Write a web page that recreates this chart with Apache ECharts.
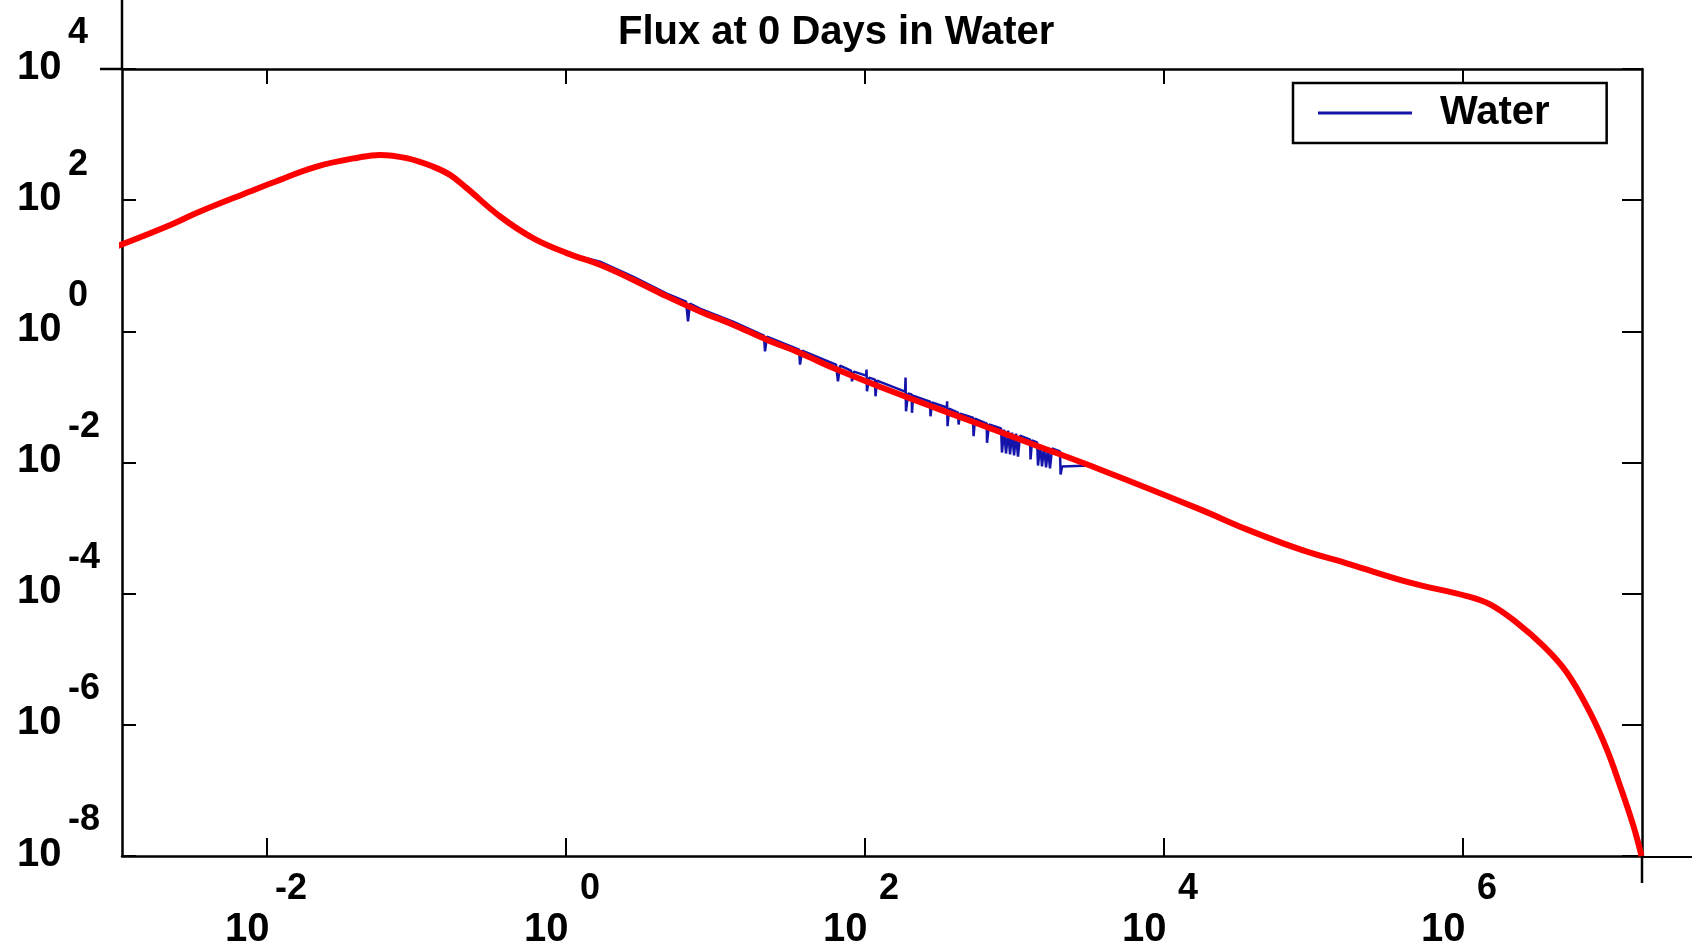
<!DOCTYPE html>
<html><head><meta charset="utf-8">
<script src="https://cdn.jsdelivr.net/npm/echarts@6/dist/echarts.min.js"></script>
<style>html,body{margin:0;padding:0;background:#fff}#c{width:1692px;height:950px}</style>
</head><body><div id="c"></div>
<script>
const titleText = 'Flux at 0 Days in Water';
const seriesName = 'Water';
const xTickExps = [-2, 0, 2, 4, 6];
const yTickExps = [-8, -6, -4, -2, 0, 2, 4];
const xRangeExp = [-2.970, 7.197];
const yRangeExp = [-8, 4];

// smooth fitted curve (red), log10 of energy and flux
const fitEnergyExp = [-3.017,-2.671,-2.448,-2.114,-1.960,-1.668,-1.378,-1.244,-1.066,-0.890,-0.776,-0.664,-0.441,-0.221,0.005,0.227,0.448,0.674,0.896,1.117,1.342,1.565,1.788,2.234,2.680,3.126,3.572,4.241,4.553,4.910,5.244,5.645,6.025,6.181,6.359,6.537,6.694,6.849,6.961,7.050,7.139,7.194];
const fitFluxExp = [1.285,1.599,1.827,2.132,2.27,2.512,2.655,2.690,2.640,2.512,2.386,2.183,1.751,1.422,1.193,1.015,0.787,0.533,0.304,0.102,-0.127,-0.329,-0.558,-0.964,-1.345,-1.726,-2.106,-2.715,-3.020,-3.325,-3.553,-3.832,-4.036,-4.162,-4.441,-4.797,-5.202,-5.811,-6.370,-6.929,-7.538,-8.000];

// noisy "Water" spectrum (blue), log10 of energy and flux
const waterEnergyExp = [-3.017,-2.671,-2.448,-2.114,-1.960,-1.668,-1.378,-1.244,-1.066,-0.890,-0.776,-0.664,-0.441,-0.221,0.005,
0.227,0.448,0.674,0.803,0.816,0.829,0.896,1.117,1.324,1.331,1.344,1.559,1.565,1.579,1.806,1.819,1.833,1.906,1.913,1.926,2.007,2.010,2.013,2.027,2.067,2.070,2.080,2.234,2.268,2.271,2.274,2.288,2.312,2.314,2.321,2.435,2.438,2.448,2.547,2.549,2.552,2.562,2.622,2.626,2.636,2.722,2.726,2.736,2.814,2.816,2.829,2.910,2.916,2.930,2.943,2.957,2.970,2.983,2.997,3.010,3.023,3.037,3.104,3.107,3.117,3.151,3.157,3.171,3.184,3.197,3.211,3.224,3.237,3.251,3.304,3.308,3.318,3.505,
3.572,4.241,4.553,4.910,5.244,5.645,6.025,6.181,6.359,6.537,6.694,6.849,6.961,7.050,7.139,7.194];
const waterFluxExp = [1.285,1.599,1.827,2.132,2.27,2.512,2.655,2.690,2.640,2.512,2.386,2.183,1.751,1.422,1.193,
1.061,0.833,0.574,0.452,0.152,0.421,0.345,0.147,-0.066,-0.305,-0.081,-0.279,-0.507,-0.294,-0.507,-0.762,-0.523,-0.599,-0.762,-0.614,-0.675,-0.584,-0.914,-0.705,-0.736,-0.990,-0.751,-0.888,-0.919,-0.705,-1.219,-0.949,-0.964,-1.243,-0.980,-1.071,-1.295,-1.086,-1.162,-1.066,-1.447,-1.177,-1.238,-1.421,-1.254,-1.315,-1.599,-1.330,-1.406,-1.700,-1.421,-1.482,-1.848,-1.497,-1.863,-1.513,-1.878,-1.543,-1.893,-1.558,-1.909,-1.589,-1.650,-1.954,-1.665,-1.695,-2.046,-1.726,-2.061,-1.756,-2.076,-1.772,-2.091,-1.787,-1.832,-2.183,-2.061,-2.046,
-2.106,-2.715,-3.020,-3.325,-3.553,-3.832,-4.036,-4.162,-4.441,-4.797,-5.202,-5.811,-6.370,-6.929,-7.538,-8.000];

const p10 = v => Math.pow(10, v);
const pairs = (xs, ys) => xs.map((x, i) => [p10(x), p10(ys[i])]);
const expOf = v => Math.round(Math.log10(v));
const FONT = '"Liberation Sans", Arial, sans-serif';
const BLACK = '#000';
const BLUE = '#1414aa';

const xTicks = xTickExps.map(p10);
const yTicks = yTickExps.map(p10);

const chart = echarts.init(document.getElementById('c'), null, {renderer: 'canvas'});
const baseX = {
  type: 'log', logBase: 10, min: p10(xRangeExp[0]), max: p10(xRangeExp[1]),
  axisLine: {show: true, onZero: false, lineStyle: {color: BLACK, width: 2.5}},
  splitLine: {show: false}, minorTick: {show: false}
};
const baseY = {
  type: 'log', logBase: 10, min: p10(yRangeExp[0]), max: p10(yRangeExp[1]),
  axisLine: {show: true, onZero: false, lineStyle: {color: BLACK, width: 2.5}},
  splitLine: {show: false}, minorTick: {show: false}
};
const labelRich = {
  e: {fontSize: 36, fontWeight: 'bold', fontFamily: FONT, color: BLACK, lineHeight: 30},
  b: {fontSize: 40, fontWeight: 'bold', fontFamily: FONT, color: BLACK, lineHeight: 38}
};

chart.setOption({
  animation: false,
  backgroundColor: '#fff',
  title: {
    text: titleText, left: 613, top: 8,
    textStyle: {fontSize: 40, fontWeight: 'bold', fontFamily: FONT, color: BLACK}
  },
  legend: {
    data: [seriesName], left: 1293, top: 83,
    padding: [10, 57, 10, 25], borderColor: BLACK, borderWidth: 2.5,
    icon: 'rect', itemWidth: 94, itemHeight: 3,
    textStyle: {fontSize: 40, fontWeight: 'bold', fontFamily: FONT, color: BLACK, padding: [0, 0, 0, 23]}
  },
  grid: {left: 122, right: 50, top: 69, bottom: 93, containLabel: false},
  xAxis: [
    Object.assign({}, baseX, {
      position: 'bottom',
      axisTick: {show: true, inside: true, length: 18, lineStyle: {color: BLACK, width: 2}, customValues: xTicks},
      axisLabel: {
        show: true, customValues: xTicks, margin: 18, align: 'center', verticalAlign: 'top',
        formatter: v => '{p|}{e|' + expOf(v) + '}\n{b|10}{q|}',
        rich: {
          p: {width: 48, lineHeight: 30},
          e: Object.assign({}, labelRich.e, {width: 36, align: 'left'}),
          b: Object.assign({}, labelRich.b, {width: 48, align: 'left', lineHeight: 52}),
          q: {width: 36, lineHeight: 52}
        }
      }
    }),
    Object.assign({}, baseX, {
      position: 'top',
      axisTick: {show: true, inside: true, length: 15, lineStyle: {color: BLACK, width: 2}, customValues: xTicks},
      axisLabel: {show: false}
    })
  ],
  yAxis: [
    Object.assign({}, baseY, {
      position: 'left',
      axisTick: {show: true, inside: true, length: 14, lineStyle: {color: BLACK, width: 2}, customValues: yTicks},
      axisLabel: {
        show: true, customValues: yTicks, margin: 105, align: 'left', verticalAlign: 'middle',
        padding: [0, 0, 33, 0],
        formatter: v => '{p|}{e|' + expOf(v) + '}\n{b|10}',
        rich: {
          p: {width: 51, lineHeight: 30},
          e: Object.assign({}, labelRich.e, {align: 'left'}),
          b: Object.assign({}, labelRich.b, {align: 'left'})
        }
      }
    }),
    Object.assign({}, baseY, {
      position: 'right',
      axisTick: {show: true, inside: true, length: 20, lineStyle: {color: BLACK, width: 2}, customValues: yTicks},
      axisLabel: {show: false}
    })
  ],
  series: [
    {
      name: seriesName, type: 'line', xAxisIndex: 0, yAxisIndex: 0,
      data: pairs(waterEnergyExp, waterFluxExp),
      symbol: 'none', clip: false, z: 2,
      itemStyle: {color: BLUE},
      lineStyle: {color: BLUE, width: 2.5}
    },
    {
      name: 'fit', type: 'line', xAxisIndex: 0, yAxisIndex: 0,
      data: pairs(fitEnergyExp, fitFluxExp),
      symbol: 'none', clip: false, z: 3, smooth: 0.4,
      itemStyle: {color: '#ff0000'},
      lineStyle: {color: '#ff0000', width: 6}
    }
  ],
  graphic: [
    {type: 'line', shape: {x1: 122, y1: 0, x2: 122, y2: 69}, style: {stroke: BLACK, lineWidth: 2.5}},
    {type: 'line', shape: {x1: 100, y1: 69, x2: 122, y2: 69}, style: {stroke: BLACK, lineWidth: 2.5}},
    {type: 'line', shape: {x1: 1642, y1: 857, x2: 1642, y2: 883}, style: {stroke: BLACK, lineWidth: 2.5}},
    {type: 'line', shape: {x1: 1642, y1: 857, x2: 1692, y2: 857}, style: {stroke: BLACK, lineWidth: 2}}
  ]
});
</script></body></html>
